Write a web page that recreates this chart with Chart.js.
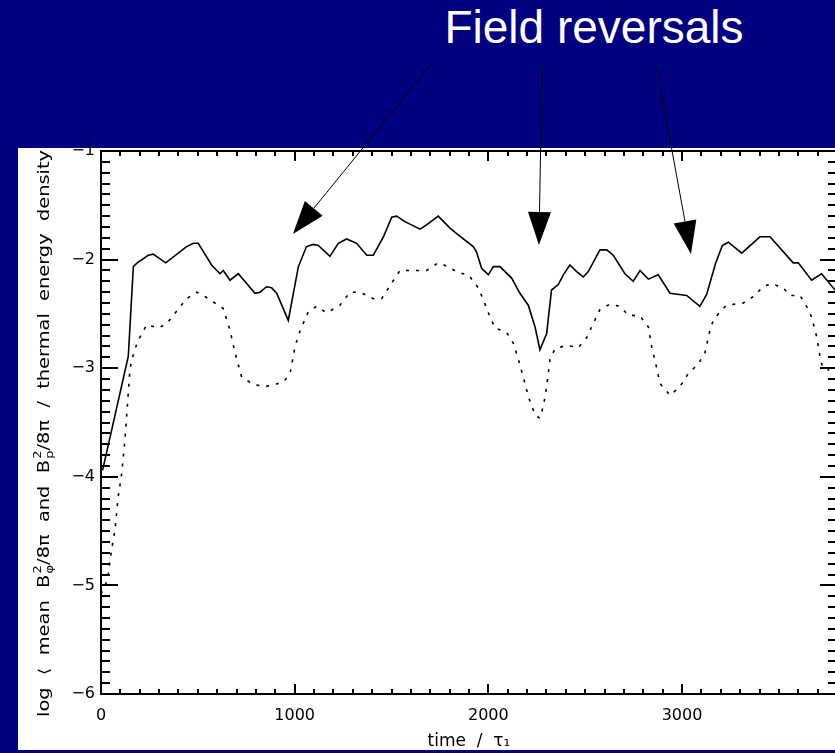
<!DOCTYPE html>
<html>
<head>
<meta charset="utf-8">
<script src="https://cdn.jsdelivr.net/npm/chart.js@4"></script>
<style>
  html, body { margin: 0; padding: 0; overflow: hidden; background: #000080; width: 835px; height: 753px; }
  #panel { position: absolute; left: 18px; top: 148px; width: 840px; height: 602px; background: #ffffff; }
  #headline { position: absolute; left: 394px; top: 4px; width: 400px; text-align: center;
    font-family: "Liberation Sans", Arial, sans-serif; font-size: 46px; line-height: 46px; color: #ffffff; }
  #chart { position: absolute; left: 0; top: 0; }
</style>
</head>
<body>
<div id="panel"></div>
<div id="headline">Field reversals</div>
<canvas id="chart" width="850" height="753"></canvas>
<script>
// toroidal field (solid)
const timeTor = [8, 55, 141, 167, 187, 244, 270, 334, 442, 477, 502, 571, 614, 631, 666, 709, 752, 795, 821, 855,
  881, 907, 967, 1019, 1061, 1096, 1122, 1182, 1225, 1268, 1320, 1372, 1406, 1458, 1501, 1527, 1569, 1647, 1681, 1741,
  1802, 1836, 1922, 1939, 1965, 2000, 2025, 2060, 2120, 2163, 2206, 2241, 2266, 2301, 2326, 2361, 2387, 2421, 2456, 2490,
  2516, 2576, 2611, 2645, 2705, 2748, 2783, 2826, 2877, 2938, 3024, 3092, 3127, 3174, 3208, 3239, 3308, 3402, 3454, 3574,
  3600, 3669, 3720, 3790];
const logTor = [-3.94, -3.57, -2.89, -2.065, -2.03, -1.96, -1.95, -2.03, -1.88, -1.85, -1.85, -2.05, -2.13, -2.10, -2.19, -2.13, -2.22, -2.31, -2.30, -2.25,
  -2.26, -2.31, -2.56, -2.065, -1.88, -1.86, -1.87, -1.97, -1.85, -1.81, -1.85, -1.96, -1.96, -1.79, -1.61, -1.60, -1.65, -1.72, -1.68, -1.60,
  -1.71, -1.76, -1.88, -1.93, -2.08, -2.14, -2.065, -2.065, -2.17, -2.31, -2.42, -2.62, -2.83, -2.68, -2.28, -2.23, -2.14, -2.05, -2.11, -2.16,
  -2.11, -1.91, -1.91, -1.96, -2.13, -2.20, -2.10, -2.18, -2.14, -2.31, -2.33, -2.43, -2.32, -2.03, -1.87, -1.84, -1.94, -1.79, -1.79, -2.03,
  -2.03, -2.19, -2.13, -2.28];

// poloidal field (dotted)
const timePol = [0, 33, 55, 72, 89, 107, 124, 150, 170, 193, 236, 296, 339, 442, 494, 528, 580, 631, 666, 692,
  726, 786, 847, 941, 976, 1002, 1027, 1070, 1113, 1165, 1234, 1285, 1337, 1406, 1449, 1510, 1544, 1612, 1681, 1741,
  1785, 1845, 1897, 1948, 1974, 2000, 2034, 2094, 2129, 2155, 2189, 2206, 2241, 2266, 2284, 2301, 2318, 2344, 2404, 2464,
  2507, 2533, 2576, 2628, 2679, 2722, 2783, 2826, 2843, 2868, 2886, 2938, 2989, 3032, 3084, 3118, 3144, 3161, 3196, 3230,
  3316, 3368, 3419, 3462, 3522, 3557, 3609, 3643, 3669, 3695, 3712, 3725, 3760];
const logPol = [-5.08, -4.95, -4.67, -4.49, -4.18, -3.97, -3.65, -3.0, -2.85, -2.74, -2.60, -2.63, -2.59, -2.36, -2.30, -2.33, -2.39, -2.45, -2.65, -2.86,
  -3.08, -3.15, -3.17, -3.13, -3.05, -2.80, -2.66, -2.48, -2.43, -2.49, -2.42, -2.30, -2.30, -2.36, -2.36, -2.19, -2.10, -2.10, -2.10, -2.03,
  -2.06, -2.12, -2.14, -2.26, -2.37, -2.49, -2.63, -2.67, -2.77, -2.92, -3.14, -3.26, -3.43, -3.46, -3.35, -3.17, -2.92, -2.82, -2.79, -2.81,
  -2.72, -2.62, -2.46, -2.41, -2.43, -2.51, -2.52, -2.62, -2.80, -2.99, -3.14, -3.25, -3.17, -3.05, -2.96, -2.86, -2.65, -2.56, -2.48, -2.42,
  -2.40, -2.34, -2.25, -2.22, -2.26, -2.33, -2.33, -2.43, -2.53, -2.71, -2.89, -2.99, -3.02];

const xTickValues = [0, 1000, 2000, 3000];
const yTickValues = [-6, -5, -4, -3, -2, -1];

// arrow annotations: tail and tip in data units
const arrowTails = [[1709, -0.19], [2277, -0.217], [2870, -0.236]];
const arrowTips = [[991, -1.764], [2261, -1.866], [3046, -1.948]];

function pts(xs, ys) {
  return xs.map((x, i) => ({ x: x, y: ys[i] }));
}

// IDL style box with inward ticks on all four sides
const idlAxes = {
  id: 'idlAxes',
  beforeDatasetsDraw(chart) {
    const ctx = chart.ctx;
    const { left, right, top, bottom } = chart.chartArea;
    const xs = chart.scales.x, ys = chart.scales.y;
    ctx.save();
    ctx.strokeStyle = '#000';
    ctx.lineWidth = 2;
    ctx.strokeRect(left, top, right - left, bottom - top);
    ctx.beginPath();
    for (let i = 0; i <= 38; i++) {
      const px = Math.round(xs.getPixelForValue(i * 100));
      const len = i % 10 === 0 ? 10 : 5;
      ctx.moveTo(px, bottom); ctx.lineTo(px, bottom - len);
      ctx.moveTo(px, top); ctx.lineTo(px, top + len);
    }
    for (let i = 0; i <= 50; i++) {
      const py = Math.round(ys.getPixelForValue(-6 + i / 10));
      const len = i % 10 === 0 ? 17 : 9;
      ctx.moveTo(left, py); ctx.lineTo(left + len, py);
      ctx.moveTo(right, py); ctx.lineTo(right - len, py);
    }
    ctx.stroke();
    ctx.restore();
  }
};

// rotated y title with sub/superscripts
const yTitleParts = [
  { t: 'log  \u27e8  mean  B' }, { sub: '\u03c6', sup: '2' }, { t: '/8\u03c0  and  B' }, { sub: 'p', sup: '2' },
  { t: '/8\u03c0  /  thermal  energy  density' }, { t: '  \u27e9', tail: true }
];
const yTitle = {
  id: 'yTitle',
  afterDraw(chart) {
    const ctx = chart.ctx;
    const big = '15px "DejaVu Sans"', small = '10px "DejaVu Sans"';
    ctx.save();
    ctx.beginPath();
    ctx.rect(18, 148, 832, 602);
    ctx.clip();
    let w = 0;
    yTitleParts.forEach(p => {
      if (p.tail) return;
      if (p.t) { ctx.font = big; w += ctx.measureText(p.t).width; }
      else { ctx.font = small; w += Math.max(ctx.measureText(p.sub).width, ctx.measureText(p.sup).width) + 1; }
    });
    ctx.translate(45, 717);
    ctx.rotate(-Math.PI / 2);
    ctx.scale(567 / w, 1);
    ctx.fillStyle = '#000';
    ctx.textBaseline = 'middle';
    let x = 0;
    yTitleParts.forEach(p => {
      if (p.t) {
        ctx.font = big;
        ctx.fillText(p.t, x, 0);
        x += ctx.measureText(p.t).width;
      } else {
        ctx.font = small;
        ctx.fillText(p.sub, x + 1, 5);
        ctx.fillText(p.sup, x + 1, -7);
        x += Math.max(ctx.measureText(p.sub).width, ctx.measureText(p.sup).width) + 1;
      }
    });
    ctx.restore();
  }
};

const arrows = {
  id: 'arrows',
  afterDraw(chart) {
    const ctx = chart.ctx;
    const xs = chart.scales.x, ys = chart.scales.y;
    ctx.save();
    ctx.strokeStyle = '#000';
    ctx.fillStyle = '#000';
    ctx.lineWidth = 1;
    arrowTips.forEach((tip, i) => {
      const x0 = xs.getPixelForValue(arrowTails[i][0]), y0 = ys.getPixelForValue(arrowTails[i][1]);
      const x1 = xs.getPixelForValue(tip[0]), y1 = ys.getPixelForValue(tip[1]);
      const d = Math.hypot(x1 - x0, y1 - y0);
      const ux = (x1 - x0) / d, uy = (y1 - y0) / d;
      const hl = 33, hw = 11.5;
      const bx = x1 - ux * hl, by = y1 - uy * hl;
      ctx.beginPath();
      ctx.moveTo(x0, y0); ctx.lineTo(bx, by);
      ctx.stroke();
      ctx.beginPath();
      ctx.moveTo(x1, y1);
      ctx.lineTo(bx - uy * hw, by + ux * hw);
      ctx.lineTo(bx + uy * hw, by - ux * hw);
      ctx.closePath();
      ctx.fill();
    });
    ctx.restore();
  }
};

new Chart(document.getElementById('chart'), {
  type: 'line',
  data: {
    datasets: [
      { label: 'toroidal', data: pts(timeTor, logTor), borderColor: '#000', borderWidth: 1.6,
        pointRadius: 0, tension: 0, fill: false },
      { label: 'poloidal', data: pts(timePol, logPol), borderColor: '#000', borderWidth: 1.6,
        borderDash: [3, 7], pointRadius: 0, tension: 0, fill: false }
    ]
  },
  options: {
    responsive: false,
    animation: false,
    devicePixelRatio: 1,
    layout: { padding: { left: 0, top: 151, right: 13, bottom: 0 } },
    plugins: { legend: { display: false }, tooltip: { enabled: false } },
    scales: {
      x: {
        type: 'linear', min: 0, max: 3800,
        grid: { display: false, drawTicks: false }, border: { display: false },
        afterBuildTicks: s => { s.ticks = xTickValues.map(v => ({ value: v })); },
        afterFit: s => { s.height = 59; },
        ticks: { color: '#000', padding: 12, maxRotation: 0, font: { family: 'DejaVu Sans', size: 16 },
          callback: v => String(v) },
        title: { display: true, text: 'time  /  \u03c4\u2081', color: '#000', padding: { top: 0, bottom: 1 },
          font: { family: 'DejaVu Sans', size: 17 } }
      },
      y: {
        type: 'linear', min: -6, max: -1,
        grid: { display: false, drawTicks: false }, border: { display: false },
        afterBuildTicks: s => { s.ticks = yTickValues.map(v => ({ value: v })); },
        afterFit: s => { s.width = 101; },
        ticks: { color: '#000', padding: 6, font: { family: 'DejaVu Sans', size: 16 },
          callback: v => '\u2212' + Math.abs(v) }
      }
    }
  },
  plugins: [idlAxes, yTitle, arrows]
});
</script>
</body>
</html>
